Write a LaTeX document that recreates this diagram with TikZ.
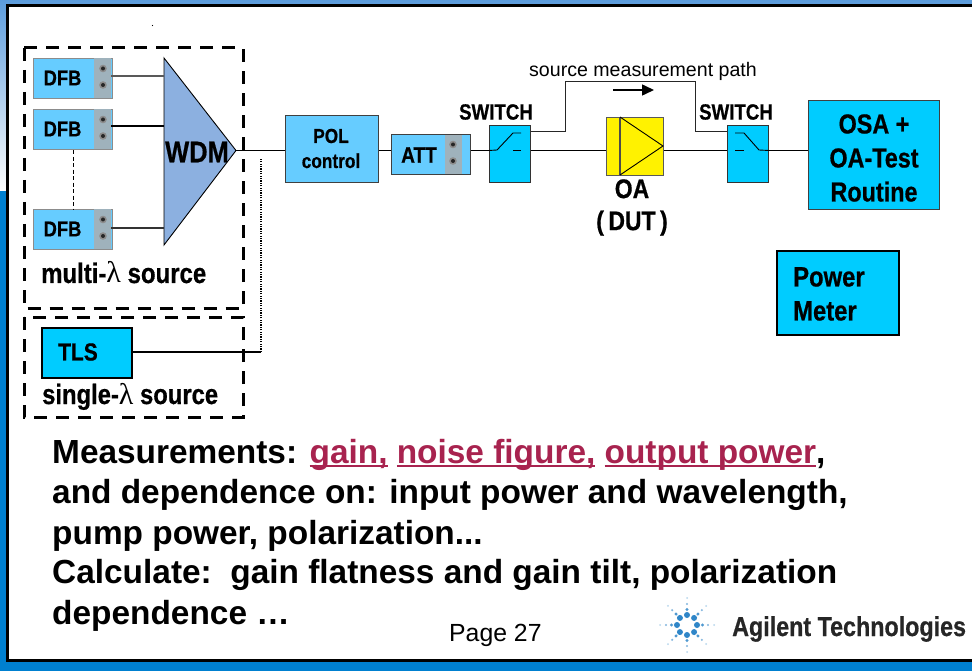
\documentclass[tikz,border=0pt]{standalone}
\usepackage{fontspec}
\setmainfont{Liberation Sans}
\newfontfamily\narrowfont[FakeStretch=0.85,BoldFeatures={FakeBold=0.6}]{Liberation Sans}
\newfontfamily\lamfont{Liberation Serif}
\usetikzlibrary{arrows.meta,calc}
\definecolor{bluebar}{HTML}{0080D0}
\definecolor{topblue}{HTML}{5C9CDC}
\definecolor{lightbox}{HTML}{66CCFF}
\definecolor{cyanbox}{HTML}{00CCFF}
\definecolor{wdmblue}{HTML}{8CB0E0}
\definecolor{linkred}{HTML}{A8234F}
\definecolor{portgrey}{HTML}{9FB2BC}
\definecolor{logoblue}{HTML}{2F86C8}
\tikzset{
  x=1pt,y=-1pt,
  boxlabel/.style={text=black,inner sep=0pt,align=center},
  plainbox/.style={draw=black!75,line width=1.2pt,inner sep=0pt,anchor=north west},
  dfbbox/.style={plainbox,fill=lightbox,draw=black!45,minimum width=79pt,minimum height=40pt},
  swbox/.style={plainbox,fill=cyanbox,draw=black!80,minimum width=41pt,minimum height=57pt},
  port/.style={fill=portgrey,draw=none,inner sep=0pt,anchor=north west,minimum width=17pt,minimum height=40pt},
  wire/.style={draw=black,line width=1.1pt},
  dashbox/.style={draw=black,line width=3pt,dash pattern=on 13pt off 9pt},
  body/.style={font=\bfseries\fontsize{33.4}{38}\selectfont,text=black,anchor=base west,inner sep=0pt}
}
\newcommand{\portholes}[2]{%
  \fill[black!45] (#1,#2+10.5) circle (3.8pt); \fill[black!45] (#1,#2+27) circle (3.8pt);
  \fill[black!85] (#1,#2+10.5) circle (2pt); \fill[black!85] (#1,#2+27) circle (2pt);}
\newcommand{\linktext}[1]{\textcolor{linkred}{\setbox0\hbox{#1}\rlap{\rule[-4pt]{\wd0}{2.4pt}}\box0}}
\newcommand{\lam}{{\lamfont\mdseries\fontsize{30}{30}\selectfont λ}}
\begin{document}
\begin{tikzpicture}
\useasboundingbox (0,0) rectangle (972,671);
% backdrop
\fill[bluebar] (0,0) rectangle (972,671);
\shade[top color=topblue,bottom color=white] (0,0) rectangle (972,191);
\fill[bluebar] (0,191) rectangle (972,671);
\fill[white] (7.5,5.5) rectangle (972,660.5);
\draw[black,line width=3pt] (972,5.5) -- (7.5,5.5) -- (7.5,660.5) -- (972,660.5);
\fill[black] (152.5,25.5) circle (0.6pt);

% source boxes
\draw[dashbox] (24,48) rectangle (243,308.5);
\draw[dashbox] (24,317) rectangle (243,417);

\node[dfbbox] (d1) at (33,58) {};
\node[dfbbox] (d2) at (33,109) {};
\node[dfbbox] (d3) at (33,209) {};
\foreach \n/\y in {1/58,2/109,3/209}{
  \node[port] (p\n) at (94,\y) {};
  \portholes{103}{\y}
  \node[boxlabel,font=\narrowfont\bfseries\fontsize{21.6}{24}\selectfont] at (62.5,\y+20) {DFB};
}
% WDM
\coordinate (wa) at (164,58);
\coordinate (wb) at (236,150.5);
\coordinate (wc) at (164,245);
\filldraw[fill=wdmblue,draw=black,line width=0.9pt] (wa) -- (wb) -- (wc) -- cycle;
\node[boxlabel,font=\narrowfont\bfseries\fontsize{30}{30}\selectfont] (wdm) at (197,152) {WDM};
\draw[wire,black!65] (p1.east|-0,76) -- (164,76);
\draw[wire] (p2.east|-0,126) -- (164,126);
\draw[wire,black!80] (p3.east|-0,228) -- (164,228);
\draw[line width=0.9pt,dash pattern=on 4pt off 2.5pt] (d2.south-|73.5,0) -- (d3.north-|73.5,0);

\node[boxlabel,anchor=base west,font=\narrowfont\bfseries\fontsize{28.2}{28}\selectfont] at (41,283) {multi-\lam\ source};
\node[plainbox,fill=cyanbox,draw=black,line width=1.5pt,minimum width=90pt,minimum height=50pt] (tls) at (41,327) {};
\node[boxlabel,font=\narrowfont\bfseries\fontsize{24.6}{28}\selectfont] at (78,352) {TLS};
\node[boxlabel,anchor=base west,font=\narrowfont\bfseries\fontsize{28}{28}\selectfont] at (42,404) {single-\lam\ source};

% chain
\node[plainbox,fill=lightbox,minimum width=93pt,minimum height=67pt,align=center] (pol) at (285,115) {};
\node[boxlabel,font=\narrowfont\bfseries\fontsize{20.3}{25}\selectfont] at (331,148.5) {POL\\control};
\node[plainbox,fill=lightbox,minimum width=79pt,minimum height=40pt] (att) at (391,134) {};
\node[port,minimum height=39pt] at (445,134.5) {};
\portholes{453}{134}
\node[boxlabel,font=\narrowfont\bfseries\fontsize{22.4}{25}\selectfont] at (419,155) {ATT};
\node[swbox] (s1) at (488.5,125) {};
\node[boxlabel,font=\narrowfont\bfseries\fontsize{22}{24}\selectfont] at (496,112) {SWITCH};
\node[plainbox,fill=yellow,draw=black!65,minimum width=57pt,minimum height=58pt] (oa) at (606,117) {};
\draw[line width=1.2pt,black!70] (620,117) -- (620,175);
\draw[line width=0.9pt,black] (620,117) -- (663,146) -- (620,175);
\node[boxlabel,font=\narrowfont\bfseries\fontsize{27}{32}\selectfont] at (632,207.5) {OA\\(\,DUT\,)};
\node[swbox] (s2) at (727,125) {};
\node[boxlabel,font=\narrowfont\bfseries\fontsize{22}{24}\selectfont] at (736,112) {SWITCH};
\node[plainbox,fill=cyanbox,minimum width=131pt,minimum height=109pt] (osa) at (808,100) {};
\node[boxlabel,font=\narrowfont\bfseries\fontsize{27.5}{34}\selectfont] at (874,158) {OSA +\\OA-Test\\Routine};
\node[plainbox,fill=cyanbox,draw=black,line width=1.6pt,minimum width=122pt,minimum height=84pt] (pm) at (776,250) {};
\node[boxlabel,anchor=north west,align=left,font=\narrowfont\bfseries\fontsize{28}{34}\selectfont] at (793,267) {Power\\Meter};

\draw[wire] (wb) -- (pol.west|-wb);
\draw[wire] (pol.east|-wb) -- (att.west|-wb);
\draw[wire] (att.east|-wb) -- (s1.west|-wb);
\draw[wire] (s1.east|-wb) -- (oa.west|-wb);
\draw[wire] (oa.east|-wb) -- (s2.west|-wb);
\draw[wire] (s2.east|-wb) -- (osa.west|-wb);
% switch symbols
\draw[line width=0.9pt] (s1.west|-wb) -- (497,150) -- (513,133) -- (521,133);
\draw[line width=0.9pt] (513,150) -- (521,150);
\draw[line width=0.9pt] (735,133) -- (744,133) -- (759,150) -- (s2.east|-wb);
\draw[line width=0.9pt] (735,150) -- (744,150);
% measurement path
\draw[line width=0.8pt,black!85] (s1.east|-0,131.5) -- (565,131.5) -- (565,81.5) -- (695,81.5) -- (695,131.5) -- (s2.west|-0,131.5);
\node[font=\fontsize{19.6}{21}\selectfont,inner sep=0pt] at (643,71) {source measurement path};
\draw[line width=1.5pt,-{Triangle[length=12pt,width=11pt]}] (613,90) -- (654,90);
% TLS link
\draw[line width=1.5pt] (tls.east|-0,352) -- (261,352);
\draw[line width=1.5pt,dash pattern=on 1.2pt off 1.2pt] (261,352) -- (261,158);

% text
\node[body] at (52,463) {Measurements: \linktext{gain,} \linktext{noise figure,} \linktext{output power},};
\node[body] at (52,503) {and dependence on: input power and wavelength,};
\node[body] at (52,544) {pump power, polarization...};
\node[body] at (52,583) {Calculate:\ \ gain flatness and gain tilt, polarization};
\node[body] at (52,624) {dependence …};
\node[font=\fontsize{24.8}{28}\selectfont,inner sep=0pt,anchor=base west] at (449,641) {Page 27};

% logo
\coordinate (logo) at (687,625);
\foreach \a in {0,45,...,315}{
  \fill[logoblue] (logo)+(\a:10) circle (3pt);
  \fill[logoblue!85] (logo)+(\a:15.5) circle (1.7pt);
  \fill[logoblue!60] (logo)+(\a:21) circle (1.2pt);
  \fill[logoblue!35] (logo)+(\a:27) circle (1pt);
}
\node[font=\narrowfont\bfseries\fontsize{27.4}{30}\selectfont,text=black!85,inner sep=0pt,anchor=base west] at (732,636) {Agilent Technologies};
\end{tikzpicture}
\end{document}
